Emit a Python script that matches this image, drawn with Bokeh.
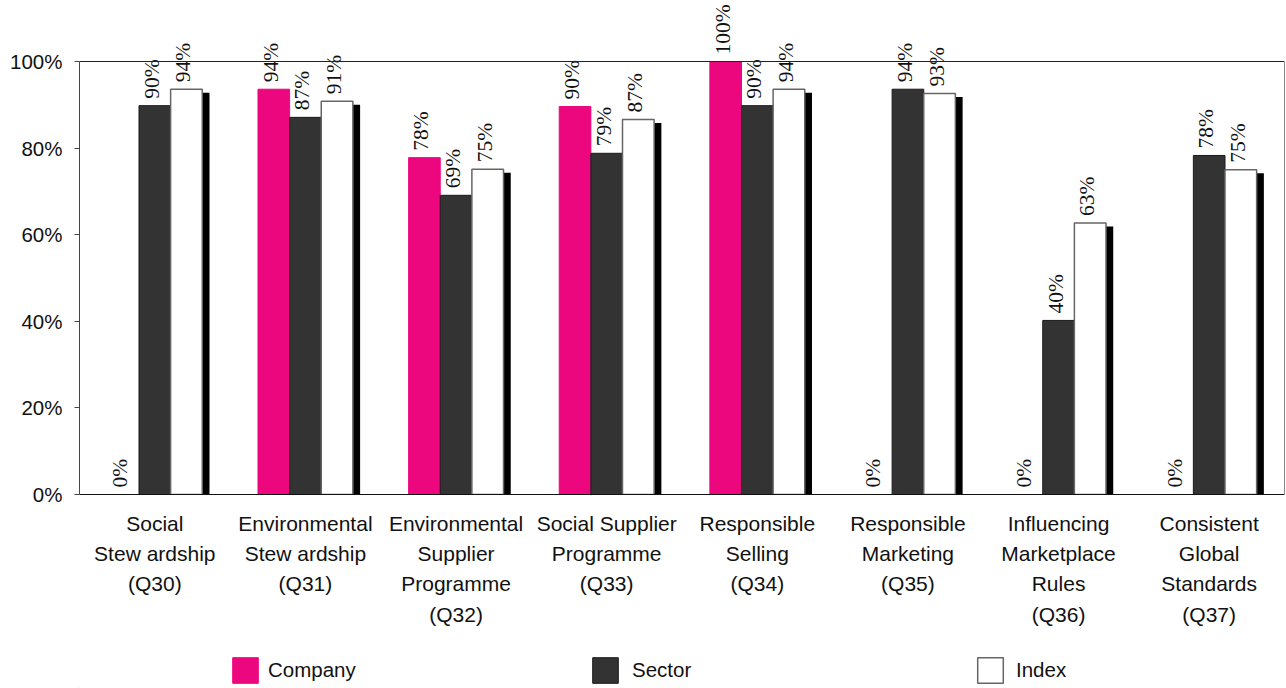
import numpy as np
from bokeh.plotting import figure
from bokeh.layouts import column
from bokeh.models import (ColumnDataSource, FactorRange, Range1d, FixedTicker, LabelSet,
                          Legend, LegendItem, PrintfTickFormatter, LinearAxis, Span)
from bokeh.transform import dodge
from bokeh.embed import file_html
from bokeh.resources import INLINE

categories = [
    "Social\nStew ardship\n(Q30)",
    "Environmental\nStew ardship\n(Q31)",
    "Environmental\nSupplier\nProgramme\n(Q32)",
    "Social Supplier\nProgramme\n(Q33)",
    "Responsible\nSelling\n(Q34)",
    "Responsible\nMarketing\n(Q35)",
    "Influencing\nMarketplace\nRules\n(Q36)",
    "Consistent\nGlobal\nStandards\n(Q37)",
]
company = [0, 93.6, 77.8, 89.6, 100, 0, 0, 0]
sector = [89.8, 87.1, 69.1, 78.8, 89.8, 93.6, 40.2, 78.3]
index = [93.6, 90.8, 75.1, 86.6, 93.6, 92.6, 62.7, 75.0]
series_names = ["Company", "Sector", "Index"]
y_ticks = [0, 20, 40, 60, 80, 100]

FONT = "Liberation Sans"
FS = "20.5px"
PINK = "#EC077F"
DARK = "#333333"
BW = 0.21
SH_DY = 0.8

W, H1, H2 = 1286, 645, 43
LEFT, TOP100, ZERO = 79, 61, 494
Y_END = 100 * ZERO / (ZERO - TOP100)

src = ColumnDataSource(dict(
    cat=categories,
    company=company, sector=sector, index=index,
    shadow_top=[v - SH_DY for v in index],
    company_lbl=[f"{v:.0f}%" for v in company],
    sector_lbl=[f"{v:.0f}%" for v in sector],
    index_lbl=[f"{v:.0f}%" for v in index],
))

p = figure(x_range=FactorRange(*categories), y_range=Range1d(0, Y_END),
           width=W, height=H1, output_backend="svg", toolbar_location=None,
           min_border_left=LEFT, min_border_right=2, min_border_top=0,
           min_border_bottom=H1 - ZERO)

bar_styles = [
    dict(fill_color=PINK, line_color=PINK, line_width=1),
    dict(fill_color=DARK, line_color="#1a1a1a", line_width=1),
    dict(fill_color="white", line_color="#666666", line_width=1.5),
]

p.vbar(x=dodge("cat", -BW, range=p.x_range), top="company", width=BW, source=src, **bar_styles[0])
p.vbar(x=dodge("cat", 0, range=p.x_range), top="sector", width=BW, source=src, **bar_styles[1])
p.vbar(x=dodge("cat", BW + 0.037, range=p.x_range), top="shadow_top", bottom=-SH_DY,
       width=0.232, source=src, fill_color="black", line_color=None)
p.vbar(x=dodge("cat", BW, range=p.x_range), top="index", width=BW, source=src, **bar_styles[2])

for off, col, lbl in [(-BW, "company", "company_lbl"), (0, "sector", "sector_lbl"), (BW, "index", "index_lbl")]:
    ls = LabelSet(x=dodge("cat", off, range=p.x_range), y=col, text=lbl, source=src,
                  angle=90, angle_units="deg", text_align="left", text_baseline="middle",
                  x_offset=-3, y_offset=7, text_font=FONT, text_font_size="21.5px",
                  text_color="#111111")
    p.add_layout(ls)

p.add_layout(Span(location=100, dimension="width", line_color="#222222", line_width=1))

p.xgrid.grid_line_color = None
p.ygrid.grid_line_color = None
p.outline_line_color = None
p.background_fill_color = "white"
p.border_fill_color = "white"

ya = p.yaxis[0]
ya.ticker = FixedTicker(ticks=y_ticks)
ya.bounds = (0, 100)
ya.formatter = PrintfTickFormatter(format="%d%%")
ya.major_tick_out = 5
ya.major_tick_in = 0
ya.minor_tick_line_color = None
ya.axis_line_color = "#444444"
ya.major_tick_line_color = "#444444"
ya.major_label_text_font = FONT
ya.major_label_text_font_size = FS
ya.major_label_text_color = "#111111"
ya.major_label_standoff = 12

ra = LinearAxis(ticker=FixedTicker(ticks=[]), bounds=(0, 100), axis_line_color="#888888",
                major_tick_line_color=None, minor_tick_line_color=None,
                major_label_text_font_size="0px")
p.add_layout(ra, "right")

xa = p.xaxis[0]
xa.major_tick_line_color = None
xa.minor_tick_line_color = None
xa.axis_line_color = "#111111"
xa.major_label_text_font = FONT
xa.major_label_text_font_size = "21px"
xa.major_label_text_color = "#111111"
xa.major_label_text_line_height = 1.32
xa.major_label_standoff = 11

# legend strip
p2 = figure(x_range=Range1d(0, 1), y_range=Range1d(0, 1), width=W, height=H2,
            output_backend="svg", toolbar_location=None, x_axis_location=None,
            y_axis_location=None, min_border=0)
p2.outline_line_color = None
p2.xgrid.grid_line_color = None
p2.ygrid.grid_line_color = None
dummy = ColumnDataSource(dict(x=[-10], top=[-10]))
for name, style, xloc, standoff in zip(series_names, bar_styles, [229, 589, 974], [7, 11, 10]):
    r = p2.vbar(x="x", top="top", bottom=-11, width=0.1, source=dummy, **style)
    lg = Legend(items=[LegendItem(label=name, renderers=[r])],
                location=(xloc - LEFT, 2),
                orientation="horizontal", glyph_width=32, glyph_height=32, label_standoff=standoff,
                padding=0, margin=0, border_line_color=None, background_fill_alpha=0,
                label_text_font=FONT, label_text_font_size=FS, label_text_color="#111111")
    p2.add_layout(lg, "center")

layout = column(p, p2, spacing=0)
open("out.html", "w").write(file_html(layout, INLINE))
